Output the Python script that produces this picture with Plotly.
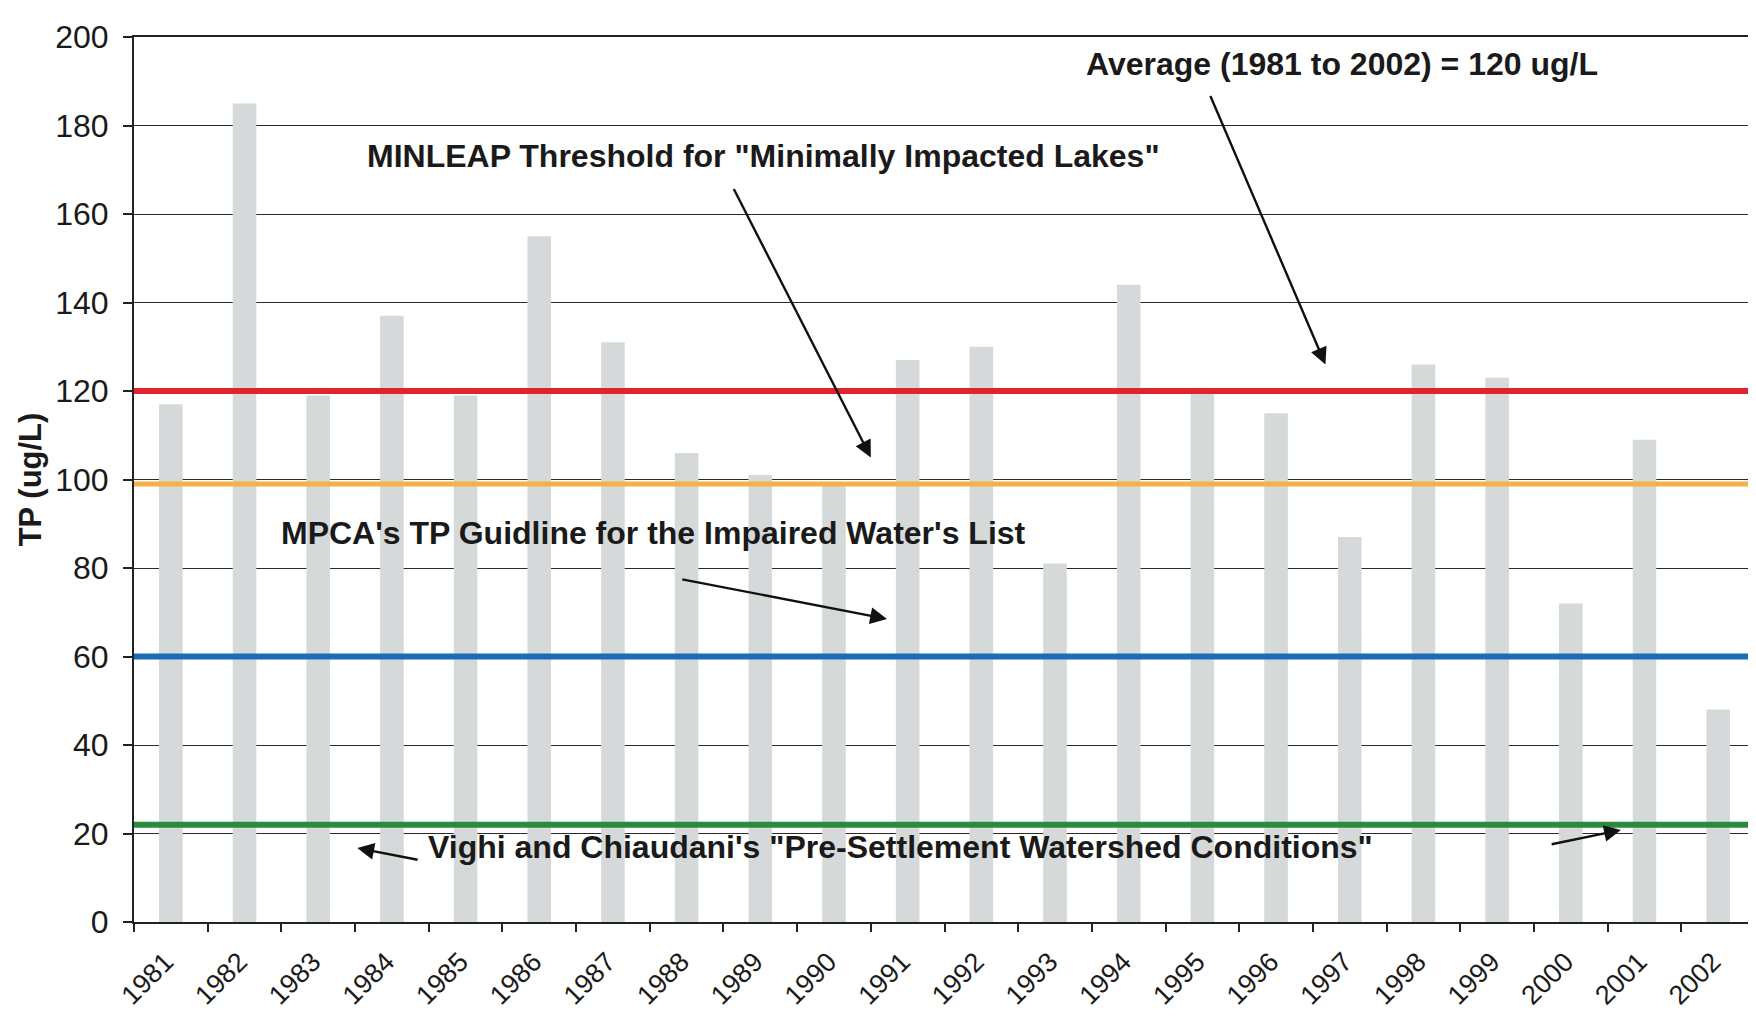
import plotly.graph_objects as go

# Annual TP values
years = [str(y) for y in range(1981, 2003)]
tp = [117, 185, 119, 137, 119, 155, 131, 106, 101, 99, 127, 130,
      81, 144, 120, 115, 87, 126, 123, 72, 109, 48]

# Reference levels (ug/L)
average_tp = 120
minleap_tp = 99
mpca_tp = 60
vighi_tp = 22

y_ticks = [0, 20, 40, 60, 80, 100, 120, 140, 160, 180, 200]

font_family = "Liberation Sans, Arial, sans-serif"

fig = go.Figure()

fig.add_trace(go.Bar(x=years, y=tp, marker=dict(color="#d6d9d9", line=dict(width=0)),
                     showlegend=False))

# horizontal reference lines
fig.add_hline(y=average_tp, line=dict(color="#e1232f", width=6))
fig.add_hline(y=minleap_tp, line=dict(color="#f4b147", width=5))
fig.add_hline(y=mpca_tp, line=dict(color="#1b6cb8", width=6))
fig.add_hline(y=vighi_tp, line=dict(color="#2b8b3c", width=6))

label_font = dict(family=font_family, size=32, color="#1a1a1a")

# text labels
texts = [
    ("<b>Average (1981 to 2002) = 120 ug/L</b>", 15.9, 194),
    ("<b>MINLEAP Threshold for \"Minimally Impacted Lakes\"</b>", 8.05, 173),
    ("<b>MPCA's TP Guidline for the Impaired Water's List</b>", 6.55, 88),
    ("<b>Vighi and Chiaudani's \"Pre-Settlement Watershed Conditions\"</b>", 9.9, 17),
]
for t, x, y in texts:
    fig.add_annotation(text=t, x=x, y=y, xref="x", yref="y", showarrow=False,
                       font=label_font, xanchor="center", yanchor="middle")

# arrows: (tail x, tail y, head x, head y)
arrows = [
    (14.1, 187, 15.67, 126),
    (7.63, 166, 9.5, 105),
    (6.92, 77.5, 9.72, 68.5),
    (3.37, 14.0, 2.53, 16.7),
    (18.72, 17.5, 19.68, 20.8),
]
for ax_, ay_, hx, hy in arrows:
    fig.add_annotation(text="", x=hx, y=hy, ax=ax_, ay=ay_, xref="x", yref="y",
                       axref="x", ayref="y", showarrow=True, arrowhead=2,
                       arrowsize=1.4, arrowwidth=2.4, arrowcolor="#111111")

fig.update_layout(
    width=1756, height=1020,
    margin=dict(l=126, r=9, t=29, b=106, autoexpand=False),
    plot_bgcolor="white", paper_bgcolor="white",
    bargap=0.68,
    font=dict(family=font_family, color="#1a1a1a"),
)

fig.update_xaxes(
    type="category", tickangle=-45, tickson="boundaries",
    tickvals=years, ticktext=[y + "\u00a0" for y in years],
    ticks="outside", ticklen=8, tickcolor="#222222", tickwidth=1.5,
    ticklabelstandoff=6, automargin=False,
    tickfont=dict(size=27, family=font_family, color="#1a1a1a"),
    showline=True, linecolor="#222222", linewidth=2, mirror=True,
    showgrid=False, range=[-0.5, 21.5],
)

fig.update_yaxes(
    range=[0, 200], tickvals=y_ticks,
    ticks="outside", ticklen=9, tickcolor="#222222", tickwidth=1.5,
    ticklabelstandoff=8, automargin=False,
    tickfont=dict(size=32, family=font_family, color="#1a1a1a"),
    showline=True, linecolor="#222222", linewidth=2, mirror=True,
    showgrid=True, gridcolor="#2a2a2a", gridwidth=1.4,
    zeroline=False,
    title=dict(text="<b>TP (ug/L)</b>", font=dict(size=31, family=font_family),
               standoff=4),
)

fig.write_html("out.html")
